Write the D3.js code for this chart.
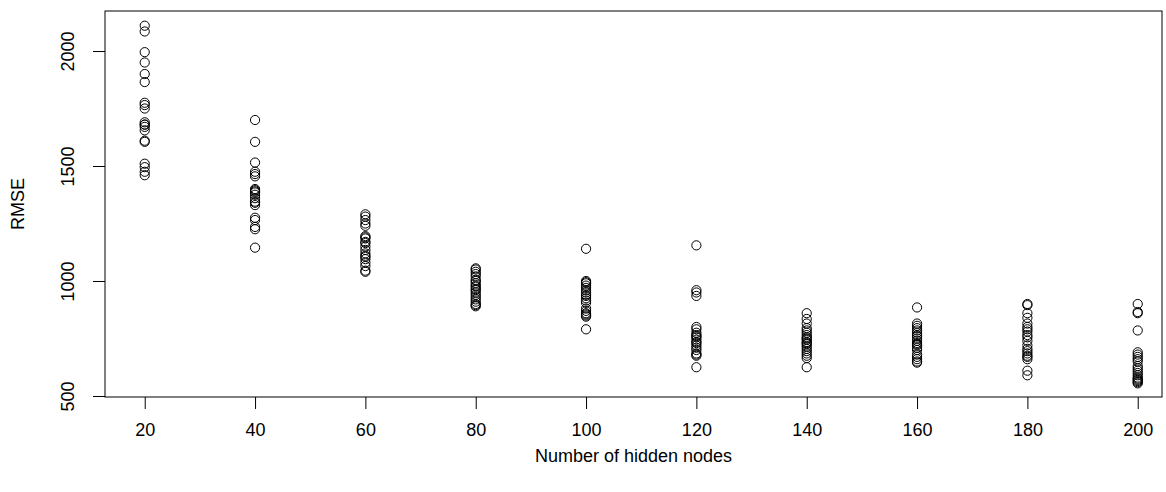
<!DOCTYPE html>
<html>
<head>
<meta charset="utf-8">
<script src="https://cdn.jsdelivr.net/npm/d3@7"></script>
<style>
    body { margin: 0; background: #fff; }
    svg text { font-family: "Liberation Sans", Arial, sans-serif; fill: #000; }
    .axis text { font-size: 18px; }
    .axis line { stroke: #000; }
</style>
</head>
<body>
<div id="chart"></div>
<script>
// hidden node counts on the x axis
var nodes = [20, 40, 60, 80, 100, 120, 140, 160, 180, 200];

// RMSE of each run, one list per node count
var rmse20 = [2110, 2085, 1995, 1950, 1900, 1865, 1775, 1765, 1750, 1690, 1680, 1680, 1670, 1655, 1610, 1605, 1510, 1495, 1475, 1460];
var rmse40 = [1700, 1605, 1515, 1475, 1465, 1455, 1400, 1395, 1390, 1385, 1375, 1360, 1345, 1340, 1330, 1275, 1265, 1235, 1225, 1145];
var rmse60 = [1290, 1280, 1265, 1250, 1240, 1195, 1190, 1185, 1170, 1165, 1150, 1135, 1120, 1110, 1105, 1095, 1080, 1065, 1045, 1040];
var rmse80 = [1055, 1050, 1040, 1030, 1020, 1005, 1000, 990, 980, 975, 965, 960, 950, 940, 930, 920, 910, 900, 895, 890];
var rmse100 = [1140, 1000, 995, 990, 980, 970, 960, 950, 940, 935, 925, 915, 905, 880, 870, 860, 855, 850, 845, 790];
var rmse120 = [1155, 960, 950, 935, 800, 790, 775, 765, 760, 755, 745, 735, 730, 720, 710, 700, 685, 680, 675, 625];
var rmse140 = [860, 835, 815, 795, 785, 775, 765, 755, 750, 745, 735, 730, 725, 715, 705, 695, 685, 675, 665, 625];
var rmse160 = [885, 815, 805, 795, 785, 775, 765, 760, 750, 740, 730, 725, 720, 710, 700, 680, 670, 660, 650, 645];
var rmse180 = [900, 895, 860, 840, 815, 800, 790, 780, 765, 755, 740, 720, 705, 695, 685, 675, 670, 660, 610, 590];
var rmse200 = [900, 865, 860, 785, 690, 680, 670, 660, 650, 630, 620, 610, 600, 590, 580, 575, 570, 565, 560, 555];

var allRuns = [rmse20, rmse40, rmse60, rmse80, rmse100, rmse120, rmse140, rmse160, rmse180, rmse200];

var xTicks = [20, 40, 60, 80, 100, 120, 140, 160, 180, 200];
var yTicks = [500, 1000, 1500, 2000];

var xTitle = "Number of hidden nodes";
var yTitle = "RMSE";

var width = 1166;
var height = 492;
var margin = {top: 11, right: 4, bottom: 95, left: 105};

var svg = d3.select("#chart").append("svg")
    .attr("width", width)
    .attr("height", height);

// flatten into points
var points = [];
nodes.forEach(function(n, i) {
    allRuns[i].forEach(function(v) {
        points.push({x: n, y: v});
    });
});

var xScale = d3.scaleLinear().domain([12.8, 204.4]).range([margin.left, width - margin.right]);
var yScale = d3.scaleLinear().domain([495.6, 2174]).range([height - margin.bottom, margin.top]);

// x axis
var xAxis = svg.append("g")
    .attr("class", "axis")
    .attr("transform", `translate(0,${height - margin.bottom})`)
    .call(d3.axisBottom(xScale).tickValues(xTicks).tickSize(12).tickPadding(14).tickFormat(d3.format("d")));
xAxis.select(".domain").remove();

// y axis, labels turned like R does
var yAxis = svg.append("g")
    .attr("class", "axis")
    .attr("transform", `translate(${margin.left},0)`)
    .call(d3.axisLeft(yScale).tickValues(yTicks).tickSize(12).tickFormat(d3.format("d")));
yAxis.select(".domain").remove();
yAxis.selectAll(".tick text")
    .attr("x", 0)
    .attr("dy", 0)
    .attr("text-anchor", "middle")
    .attr("transform", "translate(-31,0) rotate(-90)");

// plot box
svg.append("rect")
    .attr("x", margin.left)
    .attr("y", margin.top)
    .attr("width", width - margin.right - margin.left)
    .attr("height", height - margin.bottom - margin.top)
    .attr("fill", "none")
    .attr("stroke", "#000")
    .attr("stroke-width", 1);

// open circles
svg.selectAll("circle.pt")
    .data(points)
    .enter().append("circle")
    .attr("class", "pt")
    .attr("cx", function(d) { return xScale(d.x); })
    .attr("cy", function(d) { return yScale(d.y); })
    .attr("r", 4.6)
    .attr("fill", "none")
    .attr("stroke", "#000")
    .attr("stroke-width", 1);

// axis titles
svg.append("text")
    .attr("x", (margin.left + width - margin.right) / 2)
    .attr("y", 462)
    .attr("text-anchor", "middle")
    .attr("font-size", "18px")
    .text(xTitle);

svg.append("text")
    .attr("transform", `translate(24,${(margin.top + height - margin.bottom) / 2}) rotate(-90)`)
    .attr("text-anchor", "middle")
    .attr("font-size", "18px")
    .text(yTitle);
</script>
</body>
</html>
